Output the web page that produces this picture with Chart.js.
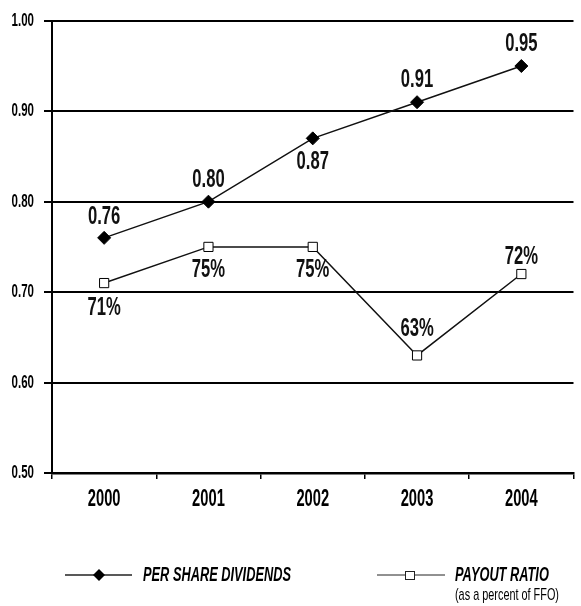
<!DOCTYPE html>
<html>
<head>
<meta charset="utf-8">
<script src="https://cdn.jsdelivr.net/npm/chart.js@4.4.1/dist/chart.umd.min.js"></script>
<style>
  html, body { margin: 0; padding: 0; background: #fff; }
  #wrap { width: 581px; height: 606px; position: relative; }
</style>
</head>
<body>
<div id="wrap"><canvas id="c" width="581" height="606"></canvas></div>
<script>
const years = ['2000', '2001', '2002', '2003', '2004'];
const perShareDividends = [0.76, 0.80, 0.87, 0.91, 0.95];
const payoutRatio = [0.71, 0.75, 0.75, 0.63, 0.72];
const dividendLabels = ['0.76', '0.80', '0.87', '0.91', '0.95'];
const payoutLabels = ['71%', '75%', '75%', '63%', '72%'];
const yTicks = [0.50, 0.60, 0.70, 0.80, 0.90, 1.00];

const FONT = "'Liberation Sans', Arial, sans-serif";
const CONDENSE = 0.64; // horizontal squeeze to imitate a condensed face

// label placement: negative = above the point, positive = below
const dividendLabelOffset = [-21, -22, 23, -22, -22];
const payoutLabelOffset = [25, 23, 23, -27, -17];

const canvas = document.getElementById('c');
const cx = canvas.getContext('2d');
const protoFill = CanvasRenderingContext2D.prototype.fillText;
const protoMeasure = CanvasRenderingContext2D.prototype.measureText;
cx.fillText = function (t, x, y, maxW) {
  this.save();
  this.translate(x, y);
  this.scale(CONDENSE, 1);
  protoFill.call(this, t, 0, 0);
  this.restore();
};
cx.measureText = function (t) {
  const m = protoMeasure.call(this, t);
  return {
    width: m.width * CONDENSE,
    actualBoundingBoxAscent: m.actualBoundingBoxAscent,
    actualBoundingBoxDescent: m.actualBoundingBoxDescent,
    actualBoundingBoxLeft: m.actualBoundingBoxLeft * CONDENSE,
    actualBoundingBoxRight: m.actualBoundingBoxRight * CONDENSE
  };
};

const valueLabels = {
  id: 'valueLabels',
  afterDatasetsDraw(chart) {
    const ctx = chart.ctx;
    ctx.save();
    ctx.font = "bold 26px " + FONT;
    ctx.fillStyle = '#111';
    ctx.textAlign = 'center';
    ctx.textBaseline = 'middle';
    const sets = [[0, dividendLabels, dividendLabelOffset], [1, payoutLabels, payoutLabelOffset]];
    sets.forEach(([di, labels, offs]) => {
      const meta = chart.getDatasetMeta(di);
      meta.data.forEach((pt, i) => {
        ctx.fillText(labels[i], pt.x, pt.y + offs[i]);
      });
    });
    ctx.restore();
  }
};

const customLegend = {
  id: 'customLegend',
  afterDraw(chart) {
    const ctx = chart.ctx;
    ctx.save();
    // Per share dividends
    ctx.strokeStyle = '#222';
    ctx.lineWidth = 1.5;
    ctx.beginPath(); ctx.moveTo(65, 575); ctx.lineTo(132, 575); ctx.stroke();
    ctx.fillStyle = '#000';
    ctx.beginPath();
    ctx.moveTo(99, 569); ctx.lineTo(105, 575); ctx.lineTo(99, 581); ctx.lineTo(93, 575); ctx.closePath();
    ctx.fill();
    ctx.font = "italic bold 20px " + FONT;
    ctx.textBaseline = 'middle';
    ctx.textAlign = 'left';
    ctx.fillText('PER SHARE DIVIDENDS', 143, 575);
    // Payout ratio
    ctx.lineWidth = 1;
    ctx.beginPath(); ctx.moveTo(377, 575); ctx.lineTo(445, 575); ctx.stroke();
    ctx.fillStyle = '#fff';
    ctx.fillRect(405, 571, 10, 9);
    ctx.strokeRect(405.5, 571.5, 9, 8);
    ctx.fillStyle = '#000';
    ctx.fillText('PAYOUT RATIO', 455, 575);
    ctx.font = "17px " + FONT;
    ctx.fillText('(as a percent of FFO)', 455, 595);
    ctx.restore();
  }
};

new Chart(canvas, {
  type: 'line',
  data: {
    labels: years,
    datasets: [
      {
        label: 'PER SHARE DIVIDENDS',
        data: perShareDividends,
        borderColor: '#111',
        borderWidth: 1.5,
        pointStyle: 'rectRot',
        pointRadius: 6.5,
        pointBackgroundColor: '#000',
        pointBorderColor: '#000',
        pointBorderWidth: 1,
        tension: 0
      },
      {
        label: 'PAYOUT RATIO',
        data: payoutRatio,
        borderColor: '#111',
        borderWidth: 1.5,
        pointStyle: 'rect',
        pointRadius: 6.5,
        pointBackgroundColor: '#fff',
        pointBorderColor: '#000',
        pointBorderWidth: 1,
        tension: 0
      }
    ]
  },
  options: {
    responsive: false,
    animation: false,
    layout: { padding: { top: 17, right: 0, left: 0, bottom: 0 } },
    plugins: {
      legend: { display: false },
      tooltip: { enabled: false }
    },
    scales: {
      x: {
        offset: true,
        grid: {
          offset: true,
          drawOnChartArea: false,
          drawTicks: true,
          tickLength: 6,
          color: '#000',
          lineWidth: 1.5
        },
        border: { display: true, color: '#000', width: 2.5 },
        ticks: {
          color: '#000',
          font: { family: FONT, size: 23, weight: 'bold' },
          padding: 7,
          maxRotation: 0
        },
        afterFit(scale) { scale.height = 133; }
      },
      y: {
        min: 0.5,
        max: 1.0,
        afterBuildTicks(scale) { scale.ticks = yTicks.map(v => ({ value: v })); },
        grid: {
          color: '#000',
          lineWidth: 2,
          tickLength: 8,
          drawTicks: true
        },
        border: { display: true, color: '#000', width: 2 },
        ticks: {
          color: '#000',
          font: { family: FONT, size: 18, weight: 'bold' },
          padding: 10,
          callback: (v) => Number(v).toFixed(2)
        },
        afterFit(scale) { scale.width = 52; }
      }
    }
  },
  plugins: [valueLabels, customLegend]
});
</script>
</body>
</html>
